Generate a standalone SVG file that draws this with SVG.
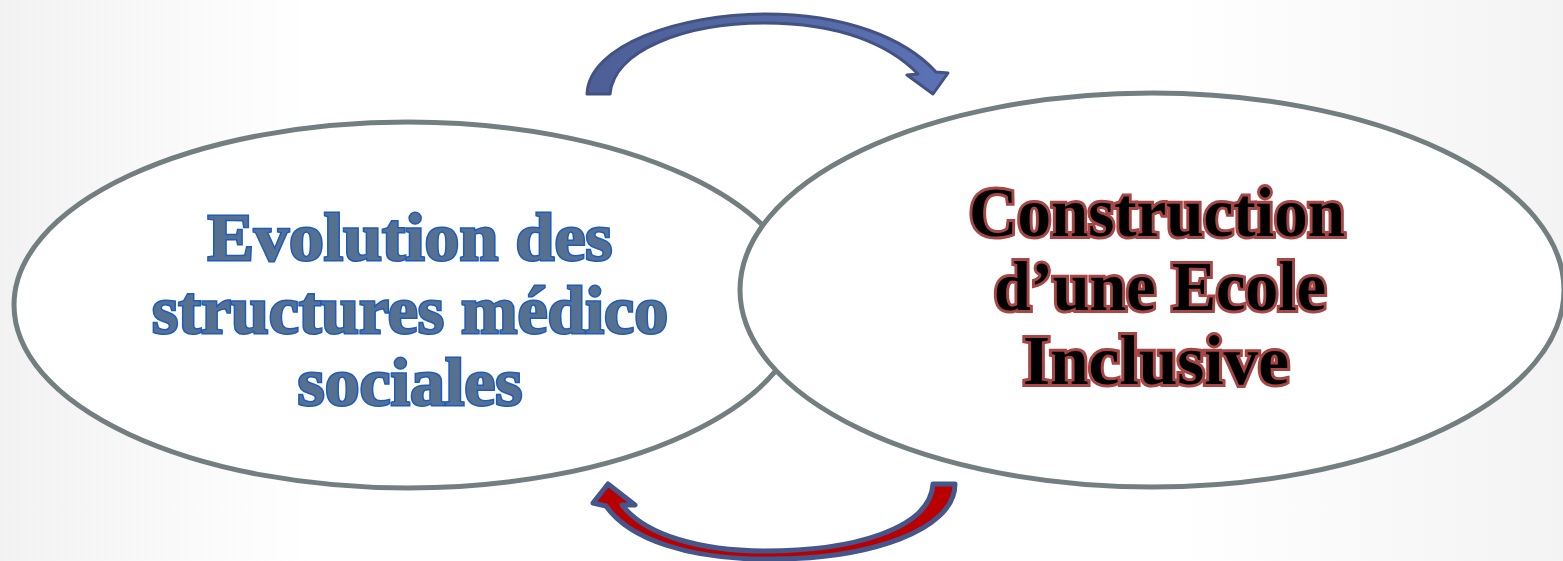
<svg xmlns="http://www.w3.org/2000/svg" width="1563" height="561" viewBox="0 0 1563 561">
<defs>
<linearGradient id="bg" x1="0" y1="0" x2="1" y2="0">
<stop offset="0" stop-color="#f2f2f2"/>
<stop offset="0.2" stop-color="#ffffff"/>
<stop offset="0.75" stop-color="#ffffff"/>
<stop offset="1" stop-color="#f3f3f3"/>
</linearGradient>
<linearGradient id="topg" x1="0" y1="0" x2="1" y2="0">
<stop offset="0" stop-color="#4d5f95"/>
<stop offset="1" stop-color="#5b72b5"/>
</linearGradient>
<style>
.ell{fill:#ffffff;stroke:#737e80;stroke-width:5}
.tb{font-family:"Liberation Serif","DejaVu Serif",serif;font-weight:bold;font-size:68px;text-anchor:middle;fill:#56708f;stroke:#1e5bbf;stroke-width:3;paint-order:stroke}
.tr{font-family:"Liberation Serif","DejaVu Serif",serif;font-weight:bold;font-size:69px;text-anchor:middle;fill:#000000;stroke:#a84646;stroke-width:6;paint-order:stroke}
</style>
</defs>
<rect width="1563" height="561" fill="url(#bg)"/>
<g id="node-left">
<ellipse class="ell" cx="408" cy="305" rx="394" ry="183"/>
<text class="tb" x="410" y="260" textLength="405" lengthAdjust="spacingAndGlyphs">Evolution des</text>
<text class="tb" x="410" y="333" textLength="516" lengthAdjust="spacingAndGlyphs">structures médico</text>
<text class="tb" x="410" y="405" textLength="225" lengthAdjust="spacingAndGlyphs">sociales</text>
</g>
<g id="node-right">
<ellipse class="ell" cx="1152" cy="290" rx="412" ry="197"/>
<text class="tr" x="1157" y="236" textLength="376" lengthAdjust="spacingAndGlyphs">Construction</text>
<text class="tr" x="1160" y="310" textLength="332" lengthAdjust="spacingAndGlyphs">d’une Ecole</text>
<text class="tr" x="1156" y="384" textLength="266" lengthAdjust="spacingAndGlyphs">Inclusive</text>
</g>
<g id="connectors">
<path d="M587,94 C589,45 680,14 765,14 C845,14 905,38 936,72 L948,73 L933,94 L907,75 L918,74 C890,45 840,23 765,23 C685,23 614,50 610,94 Z" fill="url(#topg)" stroke="#435283" stroke-width="3" stroke-linejoin="round"/>
<path d="M955,484 C955,530 870,560 765,559 C690,559 630,540 606,506 L593,503 L608,484 L635,505 L622,505 C645,535 700,551 765,551 C850,551 930,530 933,484 Z" fill="#b80000" stroke="#46558a" stroke-width="5" stroke-linejoin="round"/>
</g>
</svg>
